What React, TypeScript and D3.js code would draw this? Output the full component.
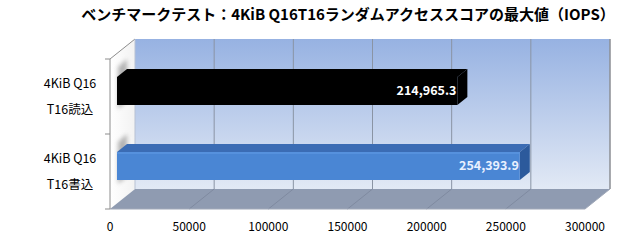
import React from "react";
import * as d3 from "d3";

const categories = ["4KiB Q16\nT16読込", "4KiB Q16\nT16書込"];
const values = [214965.3, 254393.9];
const barColors = ["#000000", "#4a86d4"];
const topColors = ["#000000", "#3b6cb4"];
const sideColors = ["#000000", "#2c5a9c"];
const labelColors = ["#ffffff", "#e8f0ff"];
const xTicks = [0, 50000, 100000, 150000, 200000, 250000, 300000];
const title = "ベンチマークテスト：4KiB Q16T16ランダムアクセススコアの最大値（IOPS）";

const W = 620;
const H = 250;
const DX = 25;
const DY = -20;
const Z0 = 0.28;
const Z1 = 0.68;
const BAR_H = 28;

const FONT = "'Noto Sans CJK JP', 'Noto Sans', sans-serif";

function proj(x: number, y: number, z: number): [number, number] {
  return [x + DX * z, y + DY * z];
}

function pts(list: [number, number][]) {
  return list.map((p) => p.join(",")).join(" ");
}

export default function App() {
  // scales on the front plane
  const x = d3.scaleLinear().domain([0, 300000]).range([110, 585]);
  const y = d3.scaleBand().domain(categories).range([59, 209]);

  const top = 59;
  const bottom = 209;
  const fmt = d3.format(",.1f");

  return (
    <svg width={W} height={H} style={{ position: "absolute", left: 0, top: 0 }}>
      <defs>
        <linearGradient id="wall" x1="0" y1="0" x2="0" y2="1">
          <stop offset="0" stopColor="#97b2e2" />
          <stop offset="1" stopColor="#e2e9f5" />
        </linearGradient>
        <linearGradient id="side" x1="0" y1="0" x2="1" y2="0">
          <stop offset="0" stopColor="#ffffff" />
          <stop offset="1" stopColor="#f2f2f2" />
        </linearGradient>
        <filter id="blur" x="-50%" y="-50%" width="200%" height="200%">
          <feGaussianBlur stdDeviation="2.2" />
        </filter>
      </defs>
      <rect width={W} height={H} fill="#ffffff" />

      {/* title */}
      <text
        x={348}
        y={20}
        textAnchor="middle"
        fontFamily={FONT}
        fontWeight="bold"
        fontSize={15}
        fill="#000"
      >
        {title}
      </text>

      {/* back wall */}
      <polygon
        points={pts([
          proj(x(0), top, 1),
          proj(x(300000), top, 1),
          proj(x(300000), bottom, 1),
          proj(x(0), bottom, 1),
        ])}
        fill="url(#wall)"
      />
      {xTicks.slice(1).map((t) => {
        const a = proj(x(t), top, 1);
        const b = proj(x(t), bottom, 1);
        return <line key={"g" + t} x1={a[0]} y1={a[1]} x2={b[0]} y2={b[1]} stroke="#8a94a4" strokeWidth={1} />;
      })}

      {/* side wall */}
      <polygon
        points={pts([proj(x(0), top, 0), proj(x(0), top, 1), proj(x(0), bottom, 1), proj(x(0), bottom, 0)])}
        fill="url(#side)"
      />
      <polyline
        points={pts([proj(x(0), top, 0), proj(x(0), top, 1)])}
        fill="none"
        stroke="#8c8c8c"
      />

      {/* floor */}
      <polygon
        points={pts([
          proj(x(0), bottom, 0),
          proj(x(0), bottom, 1),
          proj(x(300000), bottom, 1),
          proj(x(300000), bottom, 0),
        ])}
        fill="#8f9bb1"
      />
      {xTicks.slice(1, -1).map((t) => {
        const a = proj(x(t), bottom, 0);
        const b = proj(x(t), bottom, 1);
        return <line key={"f" + t} x1={a[0]} y1={a[1]} x2={b[0]} y2={b[1]} stroke="#7f8aa0" strokeWidth={1} />;
      })}
      <line x1={proj(x(0), bottom, 1)[0]} y1={proj(x(0), bottom, 1)[1]} x2={proj(x(0), top, 1)[0]} y2={proj(x(0), top, 1)[1]} stroke="#b8c2d4" />

      {/* shadows on side wall */}
      {categories.map((c) => {
        const yc = (y(c) as number) + y.bandwidth() / 2;
        const f = proj(x(0), yc - BAR_H / 2, Z0);
        const b = proj(x(0), yc + BAR_H / 2, Z0);
        return (
          <polygon
            key={"s" + c}
            points={pts([
              [f[0] + 1, f[1] - 10],
              [f[0] + 10, f[1] - 18],
              [f[0] + 10, b[1] - 4],
              [f[0] + 1, b[1] + 4],
            ])}
            fill="#7a7a7a"
            opacity={0.55}
            filter="url(#blur)"
          />
        );
      })}

      {/* bars */}
      {categories.map((c, i) => {
        const yc = (y(c) as number) + y.bandwidth() / 2;
        const y0 = yc - BAR_H / 2;
        const y1 = yc + BAR_H / 2;
        const x0 = x(0);
        const x1 = x(values[i]);
        const front = [proj(x0, y0, Z0), proj(x1, y0, Z0), proj(x1, y1, Z0), proj(x0, y1, Z0)];
        const topFace = [proj(x0, y0, Z0), proj(x0, y0, Z1), proj(x1, y0, Z1), proj(x1, y0, Z0)];
        const sideFace = [proj(x1, y0, Z0), proj(x1, y0, Z1), proj(x1, y1, Z1), proj(x1, y1, Z0)];
        const lp = proj(x1, yc, Z0);
        return (
          <g key={"b" + c}>
            <polygon points={pts(topFace)} fill={topColors[i]} />
            <polygon points={pts(sideFace)} fill={sideColors[i]} />
            <polygon points={pts(front)} fill={barColors[i]} />
            {i === 1 && (
              <line
                x1={front[0][0]}
                y1={front[0][1] + 1}
                x2={front[1][0]}
                y2={front[1][1] + 1}
                stroke="#5b95e0"
                strokeWidth={1.5}
              />
            )}
            <text
              x={lp[0] - 1}
              y={lp[1] + 4.5}
              textAnchor="end"
              fontFamily={FONT}
              fontWeight="bold"
              fontSize={12.5}
              fill={labelColors[i]}
            >
              {fmt(values[i])}
            </text>
          </g>
        );
      })}

      {/* front axes */}
      <line x1={x(0)} y1={top} x2={x(0)} y2={bottom} stroke="#8c8c8c" />
      <line x1={x(0)} y1={bottom} x2={x(300000)} y2={bottom} stroke="#a0a8b8" />
      <line
        x1={proj(x(300000), bottom, 0)[0]}
        y1={proj(x(300000), bottom, 0)[1]}
        x2={proj(x(300000), bottom, 1)[0]}
        y2={proj(x(300000), bottom, 1)[1]}
        stroke="#a0a8b8"
      />
      <line
        x1={proj(x(300000), top, 1)[0]}
        y1={proj(x(300000), top, 1)[1]}
        x2={proj(x(300000), bottom, 1)[0]}
        y2={proj(x(300000), bottom, 1)[1]}
        stroke="#8c8c8c"
      />
      {[top, top + y.step(), bottom].map((t) => (
        <line key={"t" + t} x1={x(0) - 5} y1={t} x2={x(0)} y2={t} stroke="#8c8c8c" />
      ))}

      {/* category labels */}
      {categories.map((c) => {
        const yc = (y(c) as number) + y.bandwidth() / 2;
        const lines = c.split("\n");
        return (
          <text key={"l" + c} x={70} textAnchor="middle" fontFamily={FONT} fontSize={12.5} fill="#000">
            {lines.map((ln, k) => (
              <tspan key={k} x={70} y={yc - 9 + k * 26}>
                {ln}
              </tspan>
            ))}
          </text>
        );
      })}

      {/* x tick labels */}
      {xTicks.map((t) => (
        <text
          key={"x" + t}
          x={x(t)}
          y={231}
          textAnchor="middle"
          fontFamily={FONT}
          fontSize={12}
          fill="#000"
        >
          {t}
        </text>
      ))}
    </svg>
  );
}
